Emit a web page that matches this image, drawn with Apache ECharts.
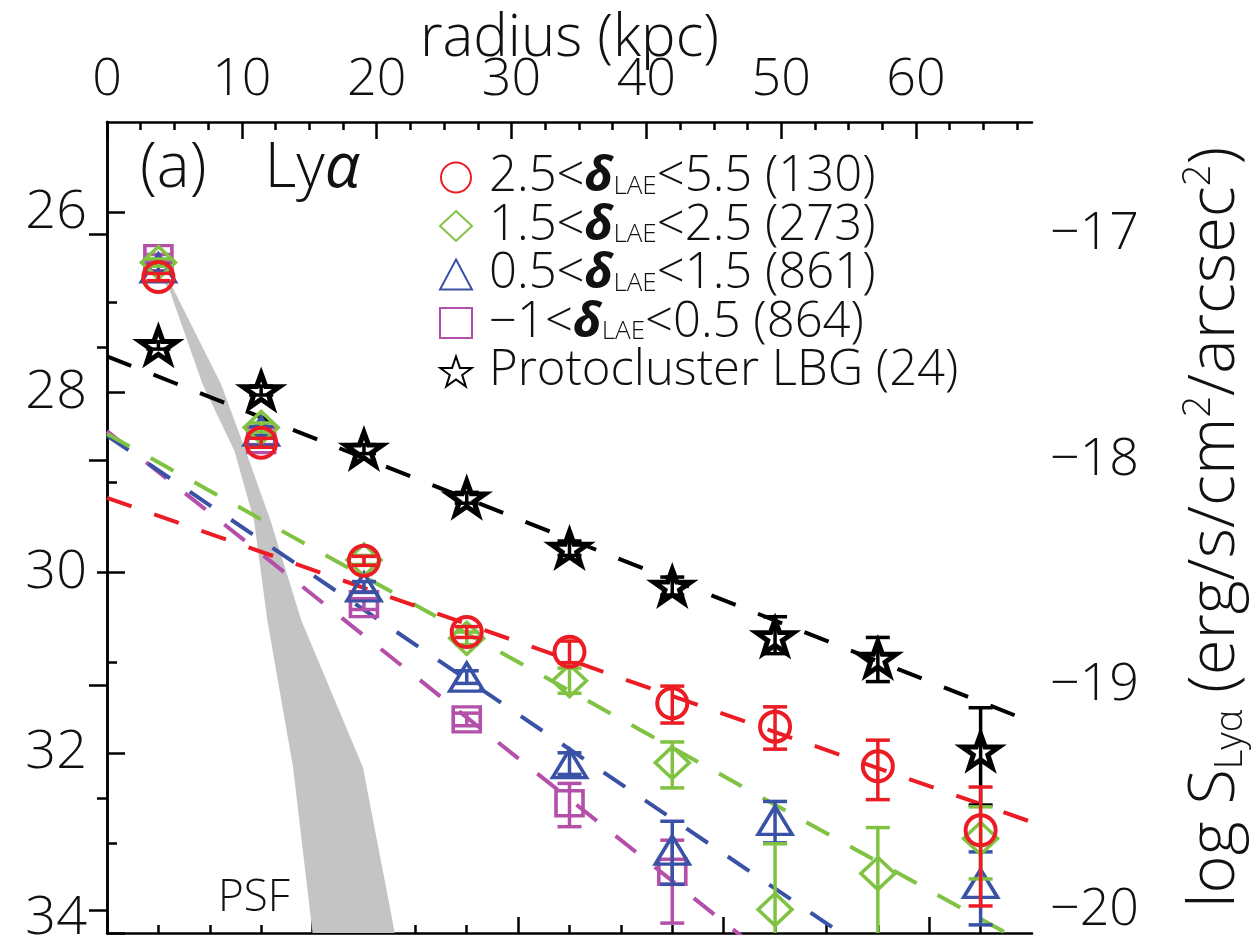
<!DOCTYPE html>
<html>
<head>
<meta charset="utf-8">
<script src="https://cdn.jsdelivr.net/npm/echarts@6/dist/echarts.min.js"></script>
<style>
  html, body { margin: 0; padding: 0; background: #ffffff; }
  #chart { width: 1256px; height: 942px; }
</style>
</head>
<body>
<div id="chart"></div>
<script>
// ---- radial bins (arcsec) ----
const radiusArcsec = [0.5, 1.5, 2.5, 3.5, 4.5, 5.5, 6.5, 7.5, 8.5];

// ---- Lya surface brightness (mag/arcsec^2), error toward bright side / faint side ----
// 2.5 < delta_LAE < 5.5 (130)
const sbBin1    = [26.72, 28.56, 29.87, 30.66, 30.88, 31.45, 31.71, 32.15, 32.86];
const errUpBin1 = [0.04, 0.05, 0.05, 0.06, 0.12, 0.19, 0.22, 0.29, 0.48];
const errDnBin1 = [0.04, 0.05, 0.05, 0.06, 0.12, 0.22, 0.25, 0.37, 0.84];
// 1.5 < delta_LAE < 2.5 (273)
const sbBin2    = [26.56, 28.39, 29.86, 30.73, 31.20, 32.11, 33.74, 33.34, 32.95];
const errUpBin2 = [0.04, 0.05, 0.05, 0.07, 0.14, 0.23, 0.73, 0.51, 0.35];
const errDnBin2 = [0.04, 0.05, 0.05, 0.07, 0.14, 0.28, 1.50, 1.50, 0.45];
// 0.5 < delta_LAE < 1.5 (861)
const sbBin3    = [26.62, 28.43, 30.16, 31.16, 32.12, 33.08, 32.75, null, 33.45];
const errUpBin3 = [0.04, 0.05, 0.06, 0.07, 0.12, 0.32, 0.21, null, 0.35];
const errDnBin3 = [0.04, 0.05, 0.06, 0.07, 0.12, 0.38, 0.25, null, 0.46];
// -1 < delta_LAE < 0.5 (864)
const sbBin4    = [26.51, 28.53, 30.35, 31.63, 32.56, 33.32, null, null, null];
const errUpBin4 = [0.04, 0.05, 0.06, 0.07, 0.22, 0.35, null, null, null];
const errDnBin4 = [0.04, 0.05, 0.06, 0.07, 0.26, 0.57, null, null, null];
// protocluster LBGs (24)
const sbLBG     = [27.48, 27.98, 28.63, 29.17, 29.73, 30.15, 30.71, 30.95, 31.98];
const errUpLBG  = [0.04, 0.05, 0.05, 0.06, 0.08, 0.10, 0.22, 0.23, 0.48];
const errDnLBG  = [0.04, 0.05, 0.05, 0.06, 0.08, 0.10, 0.19, 0.26, 0.60];

// ---- exponential profile fits: [radius, mag] at both ends ----
const fitBin1 = [[0, 29.17], [9, 32.77]];
const fitBin2 = [[0, 28.46], [9, 34.16]];
const fitBin3 = [[0, 28.48], [9, 35.44]];
const fitBin4 = [[0, 28.43], [9, 36.60]];
const fitLBG  = [[0, 27.60], [9, 31.66]];

// ---- PSF envelope (radius arcsec, mag) ----
const psfInnerR = [0.50, 0.60, 0.93, 1.24, 1.43, 1.56, 1.81, 2.00];
const psfInnerM = [26.72, 26.84, 27.91, 28.65, 29.42, 30.53, 32.16, 34.00];
const psfOuterR = [0.64, 1.11, 1.35, 1.59, 1.89, 2.49, 2.80];
const psfOuterM = [26.84, 27.91, 28.65, 29.42, 30.53, 32.16, 34.00];

// ---- axes ----
const ARCSEC_MAX = 9;
const KPC_MAX = 68.6;
const arcsecMajor = [0, 2, 4, 6, 8];
const arcsecMinor = [0.5, 1, 1.5, 2.5, 3, 3.5, 4.5, 5, 5.5, 6.5, 7, 7.5, 8.5];
const kpcLabels = [0, 10, 20, 30, 40, 50, 60];
const kpcMinor = [2.5, 5, 7.5, 12.5, 15, 17.5, 22.5, 25, 27.5, 32.5, 35, 37.5,
                  42.5, 45, 47.5, 52.5, 55, 57.5, 62.5, 65, 67.5];
const magLabels = [26, 28, 30, 32, 34];
const magMinor = [27, 29, 31, 33];
const logSLabels = [-17, -18, -19, -20];
const logSMinor = [-17.5, -18.5, -19.5];

const groupNames = [
  '2.5<δLAE<5.5 (130)',
  '1.5<δLAE<2.5 (273)',
  '0.5<δLAE<1.5 (861)',
  '−1<δLAE<0.5 (864)',
  'Protocluster LBG (24)'
];
const legendRich = {
  '2.5<δLAE<5.5 (130)': '{g| }{t|2.5<}{d|δ}{s|LAE}{t|<5.5 (130)}',
  '1.5<δLAE<2.5 (273)': '{g| }{t|1.5<}{d|δ}{s|LAE}{t|<2.5 (273)}',
  '0.5<δLAE<1.5 (861)': '{g| }{t|0.5<}{d|δ}{s|LAE}{t|<1.5 (861)}',
  '−1<δLAE<0.5 (864)': '{g| }{t|−1<}{d|δ}{s|LAE}{t|<0.5 (864)}',
  'Protocluster LBG (24)': '{g| }{t|Protocluster LBG (24)}'
};

const FONT = "'Open Sans', 'DejaVu Sans', sans-serif";
const FW = 300;
const INK = '#111111';
const RED = '#ec1c24';
const GREEN = '#80c342';
const BLUE = '#3a52a5';
const MAGENTA = '#b550aa';
const PSF_GRAY = '#c4c4c4';

const STAR = 'path://M50 0 L61.8 34.5 L97.6 34.5 L68.8 55.9 L79.4 90.5 L50 69.1 L20.6 90.5 L31.2 55.9 L2.4 34.5 L38.2 34.5 Z';

function pointData(values) {
  return radiusArcsec.map((r, i) => values[i] == null ? [r, '-'] : [r, values[i]]);
}

function errorBarSeries(values, up, dn, color, z) {
  const data = [];
  radiusArcsec.forEach((r, i) => {
    if (values[i] != null) data.push([r, values[i] - up[i], values[i] + dn[i]]);
  });
  return {
    type: 'custom',
    xAxisIndex: 0, yAxisIndex: 0,
    clip: true,
    z: z,
    silent: true,
    data: data,
    renderItem: function (params, api) {
      const x = api.value(0);
      const p1 = api.coord([x, api.value(1)]);
      const p2 = api.coord([x, api.value(2)]);
      const hw = 12;
      const st = { stroke: color, lineWidth: 3.5 };
      return {
        type: 'group',
        children: [
          { type: 'line', shape: { x1: p1[0], y1: p1[1], x2: p2[0], y2: p2[1] }, style: st },
          { type: 'line', shape: { x1: p1[0] - hw, y1: p1[1], x2: p1[0] + hw, y2: p1[1] }, style: st },
          { type: 'line', shape: { x1: p2[0] - hw, y1: p2[1], x2: p2[0] + hw, y2: p2[1] }, style: st }
        ]
      };
    }
  };
}

function markerSeries(name, values, symbol, size, color, width, z) {
  return {
    name: name,
    type: 'scatter',
    xAxisIndex: 0, yAxisIndex: 0,
    z: z,
    symbol: symbol,
    symbolSize: size,
    symbolKeepAspect: true,
    itemStyle: { color: 'rgba(0,0,0,0)', borderColor: color, borderWidth: width, opacity: 1 },
    emphasis: { disabled: true },
    data: pointData(values)
  };
}

function fitSeries(points, color) {
  return {
    type: 'line',
    xAxisIndex: 0, yAxisIndex: 0,
    z: 3,
    silent: true,
    symbol: 'none',
    clip: true,
    lineStyle: { color: color, width: 4, type: [26, 24] },
    data: points
  };
}

const psfSeries = {
  type: 'custom',
  xAxisIndex: 0, yAxisIndex: 0,
  clip: true,
  z: 1,
  silent: true,
  data: [[0]],
  renderItem: function (params, api) {
    const pts = [];
    psfInnerR.forEach((r, i) => pts.push(api.coord([r, psfInnerM[i]])));
    for (let i = psfOuterR.length - 1; i >= 0; i--) pts.push(api.coord([psfOuterR[i], psfOuterM[i]]));
    const lab = api.coord([1.43, 33.62]);
    return {
      type: 'group',
      children: [
        { type: 'polygon', shape: { points: pts }, style: { fill: PSF_GRAY } },
        { type: 'text', style: { text: 'PSF', x: lab[0], y: lab[1], align: 'center', verticalAlign: 'middle',
            fontFamily: FONT, fontWeight: FW, fontSize: 44, fill: INK } }
      ]
    };
  }
};

const frameLine = { show: true, lineStyle: { color: '#000', width: 2.5 } };
const tickStyle = { color: '#000', width: 2.5 };
const labelFont = { fontFamily: FONT, fontWeight: FW, color: INK };

const option = {
  animation: false,
  backgroundColor: '#ffffff',
  grid: { left: 107, right: 224, top: 122, bottom: 9, containLabel: false, outerBoundsMode: 'none' },
  xAxis: [
    { type: 'value', position: 'bottom', min: 0, max: ARCSEC_MAX,
      axisLine: frameLine,
      axisTick: { show: true, inside: true, length: 16, customValues: arcsecMajor, lineStyle: tickStyle },
      axisLabel: { show: false }, splitLine: { show: false } },
    { type: 'value', position: 'bottom', min: 0, max: ARCSEC_MAX,
      axisLine: { show: false },
      axisTick: { show: true, inside: true, length: 8, customValues: arcsecMinor, lineStyle: tickStyle },
      axisLabel: { show: false }, splitLine: { show: false } },
    { type: 'value', position: 'top', min: 0, max: KPC_MAX,
      axisLine: frameLine,
      axisTick: { show: true, inside: true, length: 17, customValues: kpcLabels, lineStyle: tickStyle },
      axisLabel: Object.assign({ show: true, customValues: kpcLabels, fontSize: 52, margin: 16 }, labelFont),
      splitLine: { show: false },
      name: 'radius (kpc)', nameLocation: 'middle', nameGap: 54, nameMoveOverlap: false,
      nameTextStyle: Object.assign({ fontSize: 58 }, labelFont) },
    { type: 'value', position: 'top', min: 0, max: KPC_MAX,
      axisLine: { show: false },
      axisTick: { show: true, inside: true, length: 8, customValues: kpcMinor, lineStyle: tickStyle },
      axisLabel: { show: false }, splitLine: { show: false } }
  ],
  yAxis: [
    { type: 'value', position: 'left', inverse: true, min: 25, max: 34,
      axisLine: frameLine,
      axisTick: { show: true, inside: true, length: 18, customValues: magLabels, lineStyle: tickStyle },
      axisLabel: Object.assign({ show: true, customValues: magLabels, fontSize: 54, margin: 20,
        formatter: v => v === 34 ? '{b|34}' : '{n|' + v + '}',
        rich: { n: Object.assign({ fontSize: 54 }, labelFont),
                b: Object.assign({ fontSize: 54, padding: [0, 0, 28, 0] }, labelFont) } }, labelFont),
      splitLine: { show: false } },
    { type: 'value', position: 'left', inverse: true, min: 25, max: 34,
      axisLine: { show: false },
      axisTick: { show: true, inside: true, length: 10, customValues: magMinor, lineStyle: tickStyle },
      axisLabel: { show: false }, splitLine: { show: false } },
    { type: 'value', position: 'right', min: -20.1, max: -16.5,
      axisLine: frameLine,
      axisTick: { show: true, inside: true, length: 18, customValues: logSLabels, lineStyle: tickStyle },
      axisLabel: Object.assign({ show: true, customValues: logSLabels, fontSize: 52, margin: 18,
        formatter: v => '\u2212' + Math.abs(v) }, labelFont),
      splitLine: { show: false },
      name: '{n|log S}{sub|Lyα}{n| (erg/s/cm}{sup|2}{n|/arcsec}{sup|2}{n|)}',
      nameLocation: 'middle', nameRotate: 90, nameGap: 148,
      nameTextStyle: Object.assign({ fontSize: 65,
        rich: {
          n: Object.assign({ fontSize: 65, lineHeight: 70 }, labelFont),
          sub: Object.assign({ fontSize: 38, lineHeight: 22, verticalAlign: 'bottom' }, labelFont),
          sup: Object.assign({ fontSize: 38, lineHeight: 30, verticalAlign: 'top' }, labelFont)
        } }, labelFont) },
    { type: 'value', position: 'right', min: -20.1, max: -16.5,
      axisLine: { show: false },
      axisTick: { show: true, inside: true, length: 10, customValues: logSMinor, lineStyle: tickStyle },
      axisLabel: { show: false }, splitLine: { show: false } }
  ],
  legend: {
    data: groupNames,
    orient: 'vertical',
    left: 439, top: 153,
    padding: 0,
    itemGap: -0.5,
    itemWidth: 32, itemHeight: 30,
    selectedMode: false,
    formatter: name => legendRich[name],
    textStyle: {
      fontSize: 20, lineHeight: 44,
      rich: {
        g: { width: 12, lineHeight: 44 },
        t: Object.assign({ fontSize: 49, lineHeight: 44 }, labelFont),
        d: { fontFamily: FONT, fontSize: 49, lineHeight: 44, fontStyle: 'italic', fontWeight: 'bold', color: INK },
        s: Object.assign({ fontSize: 26, lineHeight: 4, verticalAlign: 'bottom' }, labelFont)
      }
    }
  },
  graphic: [
    { type: 'text', left: 140, top: 138, z: 10,
      style: {
        text: '{t|(a)}{sp| }{t|Ly}{a|α}',
        rich: {
          t: { fontFamily: FONT, fontWeight: FW, fontSize: 62, fill: INK },
          sp: { width: 58, fontSize: 62 },
          a: { fontFamily: FONT, fontStyle: 'italic', fontWeight: 'normal', fontSize: 62, fill: INK }
        }
      } }
  ],
  series: [
    psfSeries,
    fitSeries(fitBin4, MAGENTA),
    fitSeries(fitBin3, BLUE),
    fitSeries(fitBin2, GREEN),
    fitSeries(fitBin1, RED),
    fitSeries(fitLBG, '#000'),
    errorBarSeries(sbLBG, errUpLBG, errDnLBG, '#000', 4),
    markerSeries(groupNames[4], sbLBG, STAR, [37, 35], '#000', 5, 5),
    errorBarSeries(sbBin4, errUpBin4, errDnBin4, MAGENTA, 6),
    markerSeries(groupNames[3], sbBin4, 'rect', [27, 25], MAGENTA, 3.5, 7),
    errorBarSeries(sbBin3, errUpBin3, errDnBin3, BLUE, 8),
    markerSeries(groupNames[2], sbBin3, 'triangle', [34, 28], BLUE, 3.5, 9),
    errorBarSeries(sbBin2, errUpBin2, errDnBin2, GREEN, 10),
    markerSeries(groupNames[1], sbBin2, 'diamond', [34, 32], GREEN, 3.5, 11),
    errorBarSeries(sbBin1, errUpBin1, errDnBin1, RED, 12),
    markerSeries(groupNames[0], sbBin1, 'circle', 30, RED, 4, 13)
  ]
};

const chart = echarts.init(document.getElementById('chart'), null, { renderer: 'canvas' });
chart.setOption(option);
</script>
</body>
</html>
